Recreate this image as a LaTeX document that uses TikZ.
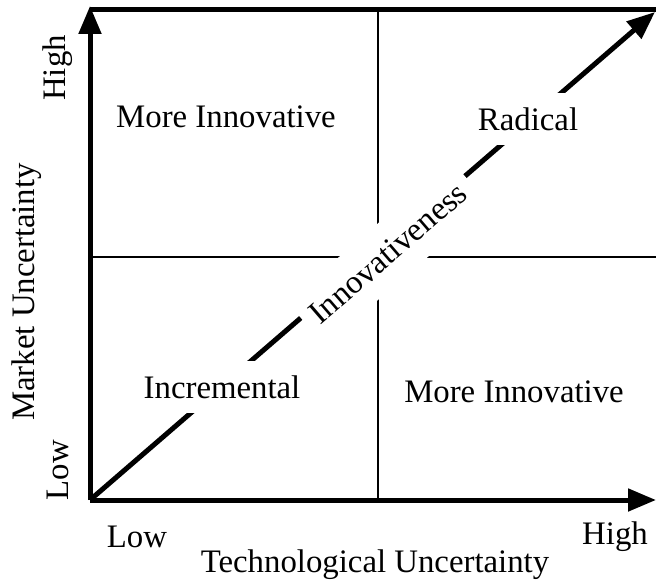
\documentclass[tikz,border=0pt]{standalone}
\usepackage{fontspec}
\setmainfont{Liberation Serif}
\usetikzlibrary{arrows.meta}

\begin{document}
\begin{tikzpicture}[x=0.5pt, y=-0.5pt, font=\fontsize{16.4}{20}\selectfont,
        axis/.style={line width=2.5pt, -{Triangle[length=14pt, width=11pt]}},
        frame/.style={line width=2.5pt},
        divider/.style={line width=1pt},
        quad/.style={fill=white, minimum height=26pt}]
            \useasboundingbox (0,0) rectangle (656,582);

            % corners of the grid
            \coordinate (O) at (90,500);
            \coordinate (Ytip) at (90,6);
            \coordinate (Xtip) at (656,500);
            \coordinate (TL) at (90,10);
            \coordinate (TR) at (656,10);
            \coordinate (Dtip) at (655,12);

            % quadrant dividers
            \coordinate (Vtop) at (378,10);
            \coordinate (Vbot) at (378,500);
            \coordinate (Hleft) at (90,257);
            \coordinate (Hright) at (656,257);

            \draw [divider] (Vtop) -- (Vbot);
            \draw [divider] (Hleft) -- (Hright);

            \draw [frame] (TL) -- (TR);
            \draw [axis] (O) -- (Ytip);
            \draw [axis] (O) -- (Xtip);
            \draw [axis] (O) -- (Dtip);

            % white boxes break the lines behind the labels
            \node (inn) at (388,253) [rotate=40.8, fill=white, inner xsep=5pt, minimum height=29pt] {Innovativeness};

            \node (tl) at (226,117) [quad] {More Innovative};
            \node (tr) at (528,119) [quad] {Radical};
            \node (bl) at (222,387) [quad] {Incremental};
            \node (br) at (514,392) [quad] {More Innovative};

            \node (yhigh) at (58,68) [rotate=90] {High};
            \node (ylow) at (58,470) [rotate=90] {Low};
            \node (ylabel) at (27,292) [rotate=90] {Market Uncertainty};

            \node (xlow) at (137,537) {Low};
            \node (xhigh) at (615,537) {High};
            \node (xlabel) at (375,565) {Technological Uncertainty};
        \end{tikzpicture}
\end{document}
